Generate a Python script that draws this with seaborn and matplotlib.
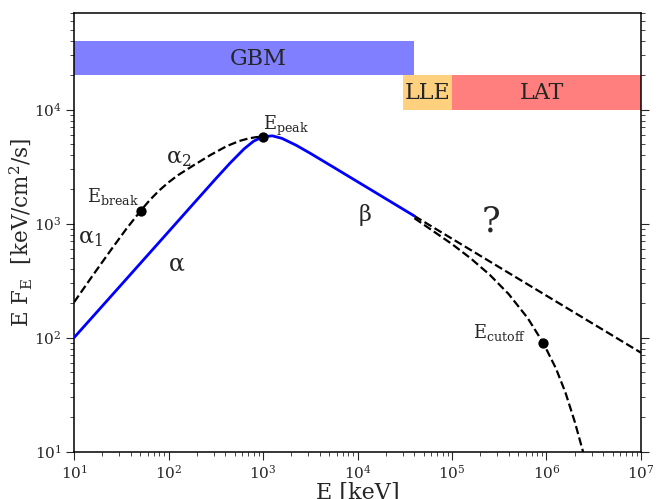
import numpy as np
import pandas as pd
import matplotlib
matplotlib.use("Agg")
import matplotlib.pyplot as plt
import seaborn as sns

# Band-like prompt spectrum (solid blue): log10 E [keV], log10 E F_E [keV/cm^2/s]
band_logE = [1.0, 1.5, 2.0, 2.25, 2.5, 2.65, 2.8, 2.9, 3.0, 3.1, 3.2, 3.35,
             3.5, 3.75, 4.0, 4.3, 4.602]
band_logF = [2.000, 2.464, 2.929, 3.162, 3.394, 3.530, 3.656, 3.723, 3.763,
             3.770, 3.748, 3.688, 3.617, 3.493, 3.368, 3.218, 3.067]

# Low-energy break variant (dashed), up to the peak
brk_logE = [1.0, 1.2, 1.4, 1.55, 1.706, 1.8, 1.9, 2.0, 2.1, 2.262, 2.45,
            2.616, 2.75, 2.85, 2.93, 3.0]
brk_logF = [2.310, 2.548, 2.780, 2.950, 3.114, 3.205, 3.290, 3.362, 3.425,
            3.510, 3.605, 3.680, 3.725, 3.748, 3.759, 3.763]

# High-energy extrapolation of the beta power law (dashed)
ext_logE = [4.602, 7.0]
ext_logF = [3.067, 1.868]

# High-energy cutoff variant (dashed)
cut_logE = [4.602, 5.0, 5.2, 5.4, 5.6, 5.8, 5.966, 6.1, 6.2, 6.3, 6.4, 6.45]
cut_logF = [3.048, 2.821, 2.694, 2.551, 2.382, 2.173, 1.953, 1.730, 1.520,
            1.260, 0.960, 0.780]

# Characteristic energies marked on the curves
mark_names = ["break", "peak", "cutoff"]
mark_logE = [1.706, 3.0, 5.966]
mark_logF = [3.114, 3.763, 1.953]

# Instrument energy coverage
inst_names = ["GBM", "LLE", "LAT"]
inst_emin = [1e1, 3e4, 1e5]
inst_emax = [4e4, 1e5, 1e7]
inst_fmin = [2e4, 1e4, 1e4]
inst_fmax = [4e4, 2e4, 2e4]
inst_colors = ["blue", "orange", "red"]


def to_frame(logE, logF):
    return pd.DataFrame({"E": np.power(10.0, logE), "F": np.power(10.0, logF)})


sns.set_style("ticks")
plt.rcParams["font.family"] = ["DejaVu Serif"]
plt.rcParams["mathtext.fontset"] = "dejavuserif"

fig = plt.figure(figsize=(6.65, 4.99), dpi=100)
ax = fig.add_axes([0.1113, 0.0948, 0.8526, 0.8786])
ax.set_xscale("log")
ax.set_yscale("log")

for name, e0, e1, f0, f1, c in zip(inst_names, inst_emin, inst_emax,
                                   inst_fmin, inst_fmax, inst_colors):
    ax.fill_between([e0, e1], [f0, f0], [f1, f1], color=c, alpha=0.5,
                    linewidth=0, zorder=1)

dash_kw = dict(color="black", linestyle="--", linewidth=1.6, sort=False,
               estimator=None, legend=False, ax=ax, zorder=2)
sns.lineplot(data=to_frame(brk_logE, brk_logF), x="E", y="F", **dash_kw)
sns.lineplot(data=to_frame(ext_logE, ext_logF), x="E", y="F", **dash_kw)
sns.lineplot(data=to_frame(cut_logE, cut_logF), x="E", y="F", **dash_kw)
sns.lineplot(data=to_frame(band_logE, band_logF), x="E", y="F", color="blue",
             linewidth=2, sort=False, estimator=None, legend=False, ax=ax,
             zorder=3)

marks = to_frame(mark_logE, mark_logF)
sns.scatterplot(data=marks, x="E", y="F", color="black", s=55, linewidth=0,
                legend=False, ax=ax, zorder=4)

# Instrument labels
ax.text(900, 2.8e4, "GBM", fontsize=16, ha="center", va="center", zorder=5)
ax.text(5.5e4, 1.4e4, "LLE", fontsize=16, ha="center", va="center", zorder=5)
ax.text(9e5, 1.4e4, "LAT", fontsize=16, ha="center", va="center", zorder=5)

# Spectral parameter labels
ax.text(1000, 7200, r"$\mathrm{E_{peak}}$", fontsize=13, ha="left", va="center")
ax.text(49, 1720, r"$\mathrm{E_{break}}$", fontsize=13, ha="right", va="center")
ax.text(6.1e5, 111, r"$\mathrm{E_{cutoff}}$", fontsize=13, ha="right", va="center")
ax.text(15, 750, "α$_1$", fontsize=16, ha="center", va="center")
ax.text(129, 3770, "α$_2$", fontsize=16, ha="center", va="center")
ax.text(122, 440, "α", fontsize=17, ha="center", va="center")
ax.text(1.2e4, 1180, "β", fontsize=16, ha="center", va="center")
ax.text(2.6e5, 1050, "?", fontsize=25, ha="center", va="center")

ax.set_xlim(10, 1e7)
ax.set_ylim(10, 7e4)
ax.set_xlabel("E [keV]", fontsize=16, labelpad=0)
ax.set_ylabel(r"E F$_\mathrm{E}$  [keV/cm$^2$/s]", fontsize=15.5, labelpad=0)

ax.tick_params(axis="both", which="major", labelsize=11, length=6,
               direction="out", pad=3)
ax.tick_params(axis="both", which="minor", length=3, direction="out")
ax.tick_params(axis="y", which="both", left=True, right=True)
ax.tick_params(axis="x", which="both", bottom=True, top=False)
for s in ax.spines.values():
    s.set_linewidth(1.1)
    s.set_color("black")

fig.savefig("out.png", dpi=100)
